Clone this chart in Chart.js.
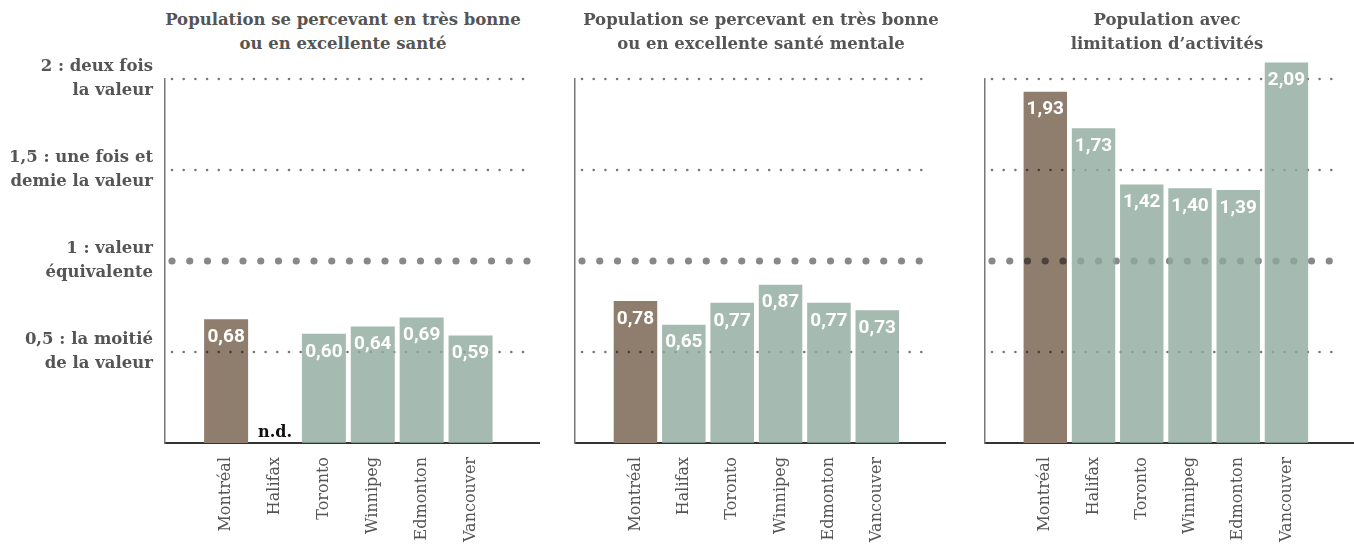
<!DOCTYPE html>
<html><head><meta charset="utf-8">
<script src="https://cdn.jsdelivr.net/npm/chart.js@4/dist/chart.umd.min.js"></script>
<style>
body{margin:0;background:#fff;width:1354px;height:548px;position:relative;overflow:hidden;}
canvas{position:absolute;top:0;}
.title{position:absolute;top:8px;width:500px;text-align:center;font-family:'DejaVu Serif',serif;font-weight:bold;font-size:16.5px;line-height:24px;color:#555;white-space:nowrap;}
</style></head><body>
<script>
// ---- data ----
const cities = ['Montréal', 'Halifax', 'Toronto', 'Winnipeg', 'Edmonton', 'Vancouver'];
const santeGenerale = [0.68, null, 0.60, 0.64, 0.69, 0.59];
const santeMentale = [0.78, 0.65, 0.77, 0.87, 0.77, 0.73];
const limitationActivites = [1.93, 1.73, 1.42, 1.40, 1.39, 2.09];
const yTickValues = [0.5, 1, 1.5, 2];
const yTickLabels = [
  ['0,5 : la moitié', 'de la valeur'],
  ['1 : valeur', 'équivalente'],
  ['1,5 : une fois et', 'demie la valeur'],
  ['2 : deux fois', 'la valeur']
];
const titles = [
  ['Population se percevant en très bonne', 'ou en excellente santé'],
  ['Population se percevant en très bonne', 'ou en excellente santé mentale'],
  ['Population avec', 'limitation d’activités']
];
const naLabel = 'n.d.';

// ---- style ----
const BROWN = '#8f7d6d';
const GREEN = 'rgba(143,169,156,0.8)';
const SERIF = "'DejaVu Serif', serif";

const panels = [
  {left: 0,   width: 545, yWidth: 165, padRight: 6,  values: santeGenerale,       showY: true,  titleCenter: 343},
  {left: 545, width: 410, yWidth: 30,  padRight: 10, values: santeMentale,        showY: false, titleCenter: 761},
  {left: 955, width: 399, yWidth: 30,  padRight: 0,  values: limitationActivites, showY: false, titleCenter: 1167}
];

function drawDots(chart) {
  const ctx = chart.ctx, a = chart.chartArea, ys = chart.scales.y;
  yTickValues.forEach(v => {
    const y = ys.getPixelForValue(v);
    const big = v === 1;
    const r = big ? 3.6 : 1.3, step = big ? 17.75 : 11.7, endX = a.right - (big ? 11 : 16);
    ctx.fillStyle = big ? '#88888b' : '#777';
    for (let x = a.left + 7; x <= endX; x += step) {
      ctx.beginPath(); ctx.arc(x, y, r, 0, Math.PI * 2); ctx.fill();
    }
  });
}

const panelPlugin = {
  id: 'panelPlugin',
  beforeDatasetsDraw(chart) {
    chart.ctx.save(); drawDots(chart); chart.ctx.restore();
  },
  afterDatasetsDraw(chart) {
    const ctx = chart.ctx;
    const meta = chart.getDatasetMeta(0);
    const vals = chart.data.datasets[0].data;
    if (vals[0].y != null) {
      const el = meta.data[0];
      const p = el.getProps(['x', 'y', 'base', 'width'], true);
      ctx.save();
      ctx.beginPath(); ctx.rect(p.x - p.width / 2, p.y, p.width, p.base - p.y); ctx.clip();
      ctx.globalCompositeOperation = 'multiply';
      drawDots(chart);
      ctx.restore();
    }
    ctx.save();
    ctx.textAlign = 'center'; ctx.textBaseline = 'middle';
    vals.forEach((d, i) => {
      const xp = chart.scales.x.getPixelForValue(d.x);
      if (d.y == null) {
        ctx.fillStyle = '#111';
        ctx.font = "bold 16px " + SERIF;
        ctx.fillText(naLabel, xp, chart.scales.y.getPixelForValue(0) - 10);
      } else {
        const p = meta.data[i].getProps(['y'], true);
        ctx.fillStyle = '#fff';
        ctx.font = "bold 19px Roboto, sans-serif";
        ctx.fillText(d.y.toFixed(2).replace('.', ','), xp, p.y + 18);
      }
    });
    ctx.restore();
  }
};

panels.forEach((pn, k) => {
  const t = document.createElement('div');
  t.className = 'title';
  t.style.left = (pn.titleCenter - 250) + 'px';
  t.innerHTML = titles[k].join('<br>');
  document.body.appendChild(t);

  const cv = document.createElement('canvas');
  cv.width = pn.width; cv.height = 548;
  cv.style.left = pn.left + 'px';
  cv.style.width = pn.width + 'px'; cv.style.height = '548px';
  document.body.appendChild(cv);

  new Chart(cv, {
    type: 'bar',
    data: {
      datasets: [{
        data: cities.map((c, i) => ({x: i, y: pn.values[i]})),
        backgroundColor: cities.map((c, i) => i === 0 ? BROWN : GREEN),
        borderWidth: 0,
        barPercentage: 0.9,
        categoryPercentage: 1,
        clip: false
      }]
    },
    options: {
      responsive: false,
      animation: false,
      devicePixelRatio: 1,
      layout: {padding: {top: 79, right: pn.padRight, left: 0, bottom: 0}},
      plugins: {legend: {display: false}, tooltip: {enabled: false}, title: {display: false}},
      scales: {
        x: {
          type: 'linear',
          offset: false,
          min: -1.25, max: 6.4,
          afterBuildTicks: s => { s.ticks = cities.map((c, i) => ({value: i})); },
          afterFit: s => { s.height = 548 - 443; },
          grid: {display: false, drawTicks: false, offset: false},
          border: {display: true, color: '#333', width: 2},
          ticks: {
            autoSkip: false, minRotation: 90, maxRotation: 90, padding: 14,
            color: '#555', font: {family: SERIF, size: 16},
            callback: v => cities[v]
          }
        },
        y: {
          min: 0, max: 2,
          afterBuildTicks: s => { s.ticks = yTickValues.map(v => ({value: v})); },
          afterFit: s => { s.width = pn.yWidth; },
          grid: {display: false, drawTicks: false},
          border: {display: true, color: '#777', width: 1.5},
          ticks: {
            display: pn.showY, padding: 12,
            color: '#555', font: {family: SERIF, size: 16.5, weight: 'bold', lineHeight: 1.45},
            callback: (v) => yTickLabels[yTickValues.indexOf(v)]
          }
        }
      }
    },
    plugins: [panelPlugin]
  });
});
</script>
</body></html>
